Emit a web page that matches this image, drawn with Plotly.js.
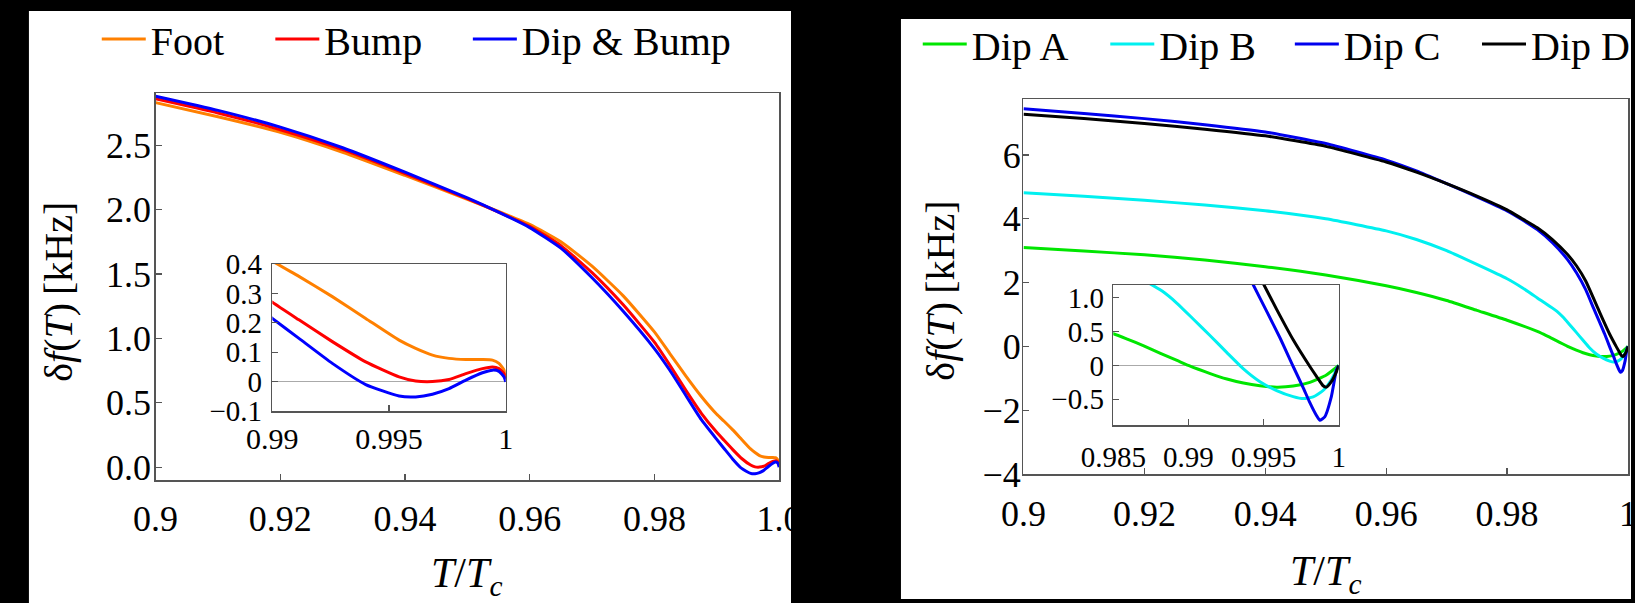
<!DOCTYPE html>
<html><head><meta charset="utf-8">
<script src="https://cdn.plot.ly/plotly-3.0.1.min.js"></script>
<style>
html,body{margin:0;padding:0;background:#000;font-family:'Liberation Serif';}
#chart{width:1635px;height:603px;}
#chart svg text{font-family:'Liberation Serif' !important;}
</style>
</head><body><div id="chart"></div>
<script>
// ---------- data: left panel ----------
const leftX = [0.9,0.91,0.92,0.93,0.94,0.95,0.955,0.96,0.965,0.97,0.975,0.98,0.9825,0.985,0.9875,0.99,0.99114,0.99257,0.994,0.99543,0.99614,0.99686,0.99757,0.99829,0.999,0.99943,0.99971,0.99993,1.0];
const footY = [2.83,2.72,2.60,2.445,2.265,2.08,1.985,1.885,1.75,1.56,1.33,1.05,0.88,0.71,0.55,0.41,0.358,0.289,0.215,0.141,0.113,0.090,0.079,0.075,0.075,0.073,0.062,0.039,0.016];
const bumpY = [2.86,2.75,2.62,2.465,2.28,2.085,1.98,1.87,1.72,1.51,1.26,0.97,0.79,0.60,0.42,0.27,0.21,0.136,0.067,0.016,0.002,0.0,0.007,0.027,0.044,0.050,0.044,0.027,0.01];
const dipBumpY = [2.88,2.77,2.64,2.48,2.29,2.09,1.98,1.86,1.70,1.47,1.21,0.92,0.75,0.56,0.37,0.215,0.147,0.062,-0.010,-0.049,-0.052,-0.043,-0.024,0.005,0.030,0.039,0.035,0.016,-0.001];
const leftNames = ['Foot','Bump','Dip & Bump'];

// ---------- data: right panel ----------
const dipAX = [0.9,0.91,0.92,0.93,0.94,0.95,0.96,0.965,0.97,0.975,0.98,0.985,0.98593,0.98703,0.98814,0.98924,0.99,0.99145,0.99256,0.99366,0.99476,0.99587,0.99697,0.99808,0.99918,1.0];
const dipAY = [3.10,2.99,2.87,2.71,2.50,2.24,1.90,1.69,1.44,1.13,0.82,0.47,0.39,0.29,0.18,0.075,0.0,-0.12,-0.20,-0.26,-0.30,-0.32,-0.305,-0.25,-0.14,0.0];
const dipBX = [0.9,0.91,0.92,0.93,0.94,0.95,0.96,0.965,0.97,0.975,0.98,0.9825,0.985,0.98825,0.98924,0.99035,0.99145,0.99256,0.99366,0.99476,0.99587,0.99697,0.99764,0.9983,0.99896,0.99951,1.0];
const dipBY = [4.82,4.71,4.58,4.43,4.25,4.00,3.62,3.35,3.00,2.57,2.12,1.84,1.52,1.10,0.92,0.68,0.44,0.19,-0.05,-0.24,-0.37,-0.46,-0.49,-0.465,-0.37,-0.21,0.0];
const dipCX = [0.9,0.91,0.92,0.93,0.94,0.95,0.96,0.965,0.97,0.975,0.98,0.9825,0.985,0.9875,0.99,0.9915,0.993,0.99432,0.99521,0.99609,0.99697,0.99764,0.99808,0.99852,0.99874,0.99907,0.99951,0.99985,1.0];
const dipCY = [7.45,7.30,7.14,6.95,6.72,6.36,5.84,5.50,5.10,4.69,4.25,3.97,3.66,3.25,2.72,2.30,1.78,1.19,0.80,0.41,-0.015,-0.33,-0.55,-0.74,-0.81,-0.76,-0.46,-0.064,0.0];
const dipDX = [0.9,0.91,0.92,0.93,0.94,0.95,0.96,0.965,0.97,0.975,0.98,0.9825,0.985,0.9875,0.99,0.9915,0.993,0.99503,0.99587,0.99697,0.99808,0.99852,0.99896,0.99918,0.99951,0.99985,1.0];
const dipDY = [7.28,7.14,6.99,6.81,6.60,6.27,5.78,5.46,5.10,4.71,4.28,4.00,3.72,3.35,2.88,2.52,2.05,1.19,0.83,0.38,-0.015,-0.16,-0.30,-0.32,-0.24,-0.09,0.0];
const rightNames = ['Dip A','Dip B','Dip C','Dip D'];

// ---------- ticks ----------
const leftXTicks = [0.9,0.92,0.94,0.96,0.98,1.0];
const leftXLabels = ['0.9','0.92','0.94','0.96','0.98','1.0'];
const leftYTicks = [0,0.5,1,1.5,2,2.5];
const leftYLabels = ['0.0','0.5','1.0','1.5','2.0','2.5'];
const leftInsetXTicks = [0.99,0.995,1];
const leftInsetXLabels = ['0.99','0.995','1'];
const leftInsetYTicks = [-0.1,0,0.1,0.2,0.3,0.4];
const leftInsetYLabels = ['\u22120.1','0','0.1','0.2','0.3','0.4'];
const rightXTicks = [0.9,0.92,0.94,0.96,0.98,1.0];
const rightXLabels = ['0.9','0.92','0.94','0.96','0.98','1'];
const rightYTicks = [-4,-2,0,2,4,6];
const rightYLabels = ['\u22124','\u22122','0','2','4','6'];
const rightInsetXTicks = [0.985,0.99,0.995,1];
const rightInsetXLabels = ['0.985','0.99','0.995','1'];
const rightInsetYTicks = [-0.5,0,0.5,1.0];
const rightInsetYLabels = ['\u22120.5','0','0.5','1.0'];

// ---------- styling / geometry ----------
const W = 1635, H = 603;
const px = v => v / W;
const py = v => (H - v) / H;
const FONT = 'Liberation Serif';
const leftColors = ['#ff8000','#ff0000','#0000ff'];
const rightColors = ['#00e600','#00f0f0','#0000ee','#000000'];
const LW = 3;

const traces = [];
const leftSeries = [footY, bumpY, dipBumpY];
const leftLegendX = [97, 271, 469];
const rightLegendX = [920, 1108, 1293, 1481];
const legendKeys = ['legend','legend2','legend3','legend4','legend5','legend6','legend7'];
const lineStyle = c => ({color:c, width:LW, shape:'spline', smoothing:0.5});

leftSeries.forEach((ys, i) => {
  traces.push({x: leftX, y: ys, xaxis:'x', yaxis:'y', type:'scatter', mode:'lines', name:leftNames[i],
    line: lineStyle(leftColors[i]), legend: legendKeys[i]});
  traces.push({x: leftX, y: ys, xaxis:'x2', yaxis:'y2', type:'scatter', mode:'lines', showlegend:false,
    line: lineStyle(leftColors[i])});
});
const rightXs = [dipAX, dipBX, dipCX, dipDX];
const rightYs = [dipAY, dipBY, dipCY, dipDY];
rightXs.forEach((xs, i) => {
  traces.push({x: xs, y: rightYs[i], xaxis:'x3', yaxis:'y3', type:'scatter', mode:'lines', name:rightNames[i],
    line: lineStyle(rightColors[i]), legend: legendKeys[3+i]});
  traces.push({x: xs, y: rightYs[i], xaxis:'x4', yaxis:'y4', type:'scatter', mode:'lines', showlegend:false,
    line: lineStyle(rightColors[i])});
});

function axis(domain, range, vals, labels, fsize, standoff, anchor, zero) {
  return {domain: domain, range: range, anchor: anchor, tickmode:'array', tickvals: vals, ticktext: labels,
    showline:true, mirror:true, linecolor:'#555', linewidth:1.5, ticks:'inside', ticklen:6, tickwidth:1.2,
    tickcolor:'#555', showgrid:false, zeroline: !!zero, zerolinecolor:'#aaa', zerolinewidth:1,
    ticklabeloverflow:'allow',
    tickfont:{family:FONT, size:fsize, color:'#000'}, ticklabelstandoff: standoff, fixedrange:true};
}

const layout = {
  width: W, height: H, margin:{l:0,r:0,t:0,b:0}, paper_bgcolor:'#000', plot_bgcolor:'#fff',
  font:{family:FONT, color:'#000'},
  showlegend:true,
  xaxis:  axis([px(156), px(781)], [0.9, 1.0], leftXTicks, leftXLabels, 36, 6, 'y'),
  yaxis:  axis([py(480), py(93)], [-0.1, 2.905], leftYTicks, leftYLabels, 36, -4, 'x'),
  xaxis2: axis([px(273), px(507)], [0.99, 1.0], leftInsetXTicks, leftInsetXLabels, 30, 0, 'y2'),
  yaxis2: axis([py(411), py(264)], [-0.1, 0.4], leftInsetYTicks, leftInsetYLabels, 29, 3, 'x2', true),
  xaxis3: axis([px(1026), px(1632)], [0.9, 1.0], rightXTicks, rightXLabels, 36, 7, 'y3'),
  yaxis3: axis([py(474), py(99)], [-4, 7.755], rightYTicks, rightYLabels, 36, -6, 'x3'),
  xaxis4: axis([px(1116), px(1342)], [0.985, 1.0], rightInsetXTicks, rightInsetXLabels, 29, 6, 'y4'),
  yaxis4: axis([py(425), py(285)], [-0.88, 1.19], rightInsetYTicks, rightInsetYLabels, 29, 2, 'x4', true),
  shapes: [
    {type:'rect', xref:'paper', yref:'paper', x0:px(29), x1:px(793), y0:0, y1:py(11), fillcolor:'#fff', line:{width:0}, layer:'below'},
    {type:'rect', xref:'paper', yref:'paper', x0:px(903), x1:1, y0:py(599), y1:py(19), fillcolor:'#fff', line:{width:0}, layer:'below'},
    {type:'rect', xref:'paper', yref:'paper', x0:px(793), x1:px(903), y0:0, y1:1, fillcolor:'#000', line:{width:0}, layer:'above'}
  ],
  annotations: [
    {xref:'paper', yref:'paper', x:px(58), y:py(292), text:'\u03b4<i>f</i>(<i>T</i>)\u2009[kHz]', textangle:-90, showarrow:false,
      xanchor:'center', yanchor:'middle', font:{family:FONT, size:40, color:'#000'}},
    {xref:'paper', yref:'paper', x:px(942), y:py(291), text:'\u03b4<i>f</i>(<i>T</i>)\u2009[kHz]', textangle:-90, showarrow:false,
      xanchor:'center', yanchor:'middle', font:{family:FONT, size:40, color:'#000'}},
    {xref:'paper', yref:'paper', x:px(468), y:py(576), text:'<i>T</i>/<i>T<sub>c</sub></i>', showarrow:false,
      xanchor:'center', yanchor:'middle', font:{family:FONT, size:42, color:'#000'}},
    {xref:'paper', yref:'paper', x:px(1329), y:py(574), text:'<i>T</i>/<i>T<sub>c</sub></i>', showarrow:false,
      xanchor:'center', yanchor:'middle', font:{family:FONT, size:42, color:'#000'}}
  ]
};

function legendAt(xpix, ypix) {
  return {x: px(xpix), y: py(ypix), xanchor:'left', yanchor:'middle', orientation:'h',
    bgcolor:'rgba(0,0,0,0)', borderwidth:0, itemwidth:44,
    font:{family:FONT, size:40, color:'#000'}};
}
leftLegendX.forEach((xp, i) => { layout[legendKeys[i]] = legendAt(xp, 39); });
rightLegendX.forEach((xp, i) => { layout[legendKeys[3+i]] = legendAt(xp, 44); });

Plotly.newPlot('chart', traces, layout, {staticPlot:true, displayModeBar:false});
</script></body></html>
